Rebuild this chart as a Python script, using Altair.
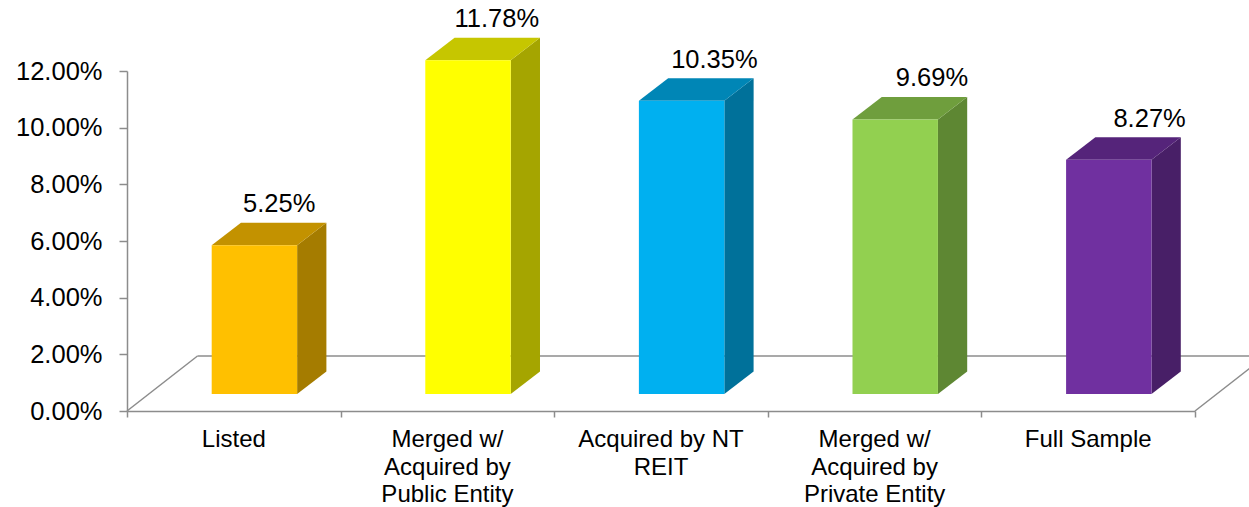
import altair as alt
import pandas as pd

# ---------------- data ----------------
categories = ["Listed", "Merged w/\nAcquired by\nPublic Entity", "Acquired by NT\nREIT",
              "Merged w/\nAcquired by\nPrivate Entity", "Full Sample"]
values = [0.0525, 0.1178, 0.1035, 0.0969, 0.0827]
value_labels = ["5.25%", "11.78%", "10.35%", "9.69%", "8.27%"]
y_ticks = [0, 0.02, 0.04, 0.06, 0.08, 0.10, 0.12]

# ---------------- styles ----------------
front_colors = ["#FFC000", "#FFFF00", "#00B0F0", "#92D050", "#7030A0"]
top_colors = ["#C39200", "#C6C600", "#0086B6", "#6F9E3D", "#55247A"]
side_colors = ["#A57C00", "#A5A500", "#00719A", "#5E8733", "#481F67"]
FONT = "Liberation Sans"
GRAY = "#8C8C8C"

# ---------------- layout (scale units) ----------------
N = len(categories)
BAR_LEFT = 0.3965      # front face left edge within a slot
BAR_W = 0.40           # front face width
DX = 0.137             # depth offset, x
DY = 0.0079            # depth offset, y
BASE = 0.006           # bar base above floor front edge
FLOOR_DX = 0.33
FLOOR_DY = 0.0194
LABEL_START = 0.7126
LABEL_SPREAD = 1.0187
LABEL_LIFT = 0.0177

xscale = alt.Scale(domain=[0, N], nice=False, zero=False)
yscale = alt.Scale(domain=[0, 0.12], nice=False, zero=False)
xaxis = alt.Axis(values=list(range(N + 1)), labels=False, tickSize=6, tickColor=GRAY,
                 tickWidth=1.5, domainColor=GRAY, domainWidth=1.5, grid=False, title=None)
yaxis = alt.Axis(values=y_ticks, format=".2%", labelFont=FONT, labelFontSize=25.5,
                 labelColor="#000000", labelPadding=17, tickSize=8, tickColor=GRAY,
                 tickWidth=1.5, domainColor=GRAY, domainWidth=1.5, grid=False, title=None)


def X(f, stack=False):
    if stack:
        return alt.X(f, type="quantitative", scale=xscale, axis=xaxis, title=None, stack=None)
    return alt.X(f, type="quantitative", scale=xscale, axis=xaxis, title=None)


def Y(f, stack=False):
    if stack:
        return alt.Y(f, type="quantitative", scale=yscale, axis=yaxis, title=None, stack=None)
    return alt.Y(f, type="quantitative", scale=yscale, axis=yaxis, title=None)


# front faces
front = pd.DataFrame({
    "bar": list(range(N)),
    "x": [i + BAR_LEFT for i in range(N)],
    "x2": [i + BAR_LEFT + BAR_W for i in range(N)],
    "y": [BASE] * N,
    "y2": [BASE + v for v in values],
    "color": front_colors,
})

# side faces (two points each)
side_rows = []
for i, v in enumerate(values):
    xr = i + BAR_LEFT + BAR_W
    for t in (0, 1):
        side_rows.append({"bar": i, "x": xr + t * DX, "y": BASE + t * DY,
                          "y2": BASE + v + t * DY, "color": side_colors[i]})
side = pd.DataFrame(side_rows)

# top faces (two points each)
top_rows = []
for i, v in enumerate(values):
    xl = i + BAR_LEFT
    for t in (0, 1):
        top_rows.append({"bar": i, "y": BASE + v + t * DY, "x": xl + t * DX,
                         "x2": xl + BAR_W + t * DX, "color": top_colors[i]})
top = pd.DataFrame(top_rows)

# floor lines
floor = pd.DataFrame({
    "x": [0, FLOOR_DX, N],
    "x2": [FLOOR_DX, N + FLOOR_DX, N + FLOOR_DX],
    "y": [0, FLOOR_DY, 0],
    "y2": [FLOOR_DY, FLOOR_DY, FLOOR_DY],
})

labels = pd.DataFrame({
    "x": [LABEL_START + LABEL_SPREAD * i for i in range(N)],
    "y": [v + LABEL_LIFT for v in values],
    "text": value_labels,
})

cats = pd.DataFrame({"x": [i + 0.5 for i in range(N)], "y": [0] * N, "text": categories})

floor_layer = alt.Chart(floor).mark_rule(color=GRAY, strokeWidth=1.5).encode(
    x=X("x"), x2="x2", y=Y("y"), y2="y2")

front_layer = alt.Chart(front).mark_rect(strokeWidth=0).encode(
    x=X("x"), x2="x2", y=Y("y"), y2="y2",
    color=alt.Color("color:N", scale=None))

side_layer = alt.Chart(side).mark_area(orient="vertical").encode(
    x=X("x"), y=Y("y", stack=True), y2="y2", detail="bar:N",
    color=alt.Color("color:N", scale=None))

top_layer = alt.Chart(top).mark_area(orient="horizontal").encode(
    y=Y("y"), x=X("x", stack=True), x2="x2", detail="bar:N",
    color=alt.Color("color:N", scale=None))

label_layer = alt.Chart(labels).mark_text(
    font=FONT, fontSize=25.5, color="#000000", align="center", baseline="alphabetic"
).encode(x=X("x"), y=Y("y"), text="text:N")

cat_layer = alt.Chart(cats).mark_text(
    font=FONT, fontSize=24, color="#000000", align="center", baseline="alphabetic",
    lineBreak="\n", lineHeight=27.5, dy=36
).encode(x=X("x"), y=Y("y"), text="text:N")

chart = alt.layer(floor_layer, side_layer, top_layer, front_layer, label_layer, cat_layer).properties(
    width=1068, height=340,
    background="#FFFFFF",
    autosize=alt.AutoSizeParams(type="none"),
    padding={"left": 127, "top": 71, "right": 54, "bottom": 96},
).configure_view(stroke=None, strokeWidth=0)

chart.save("out.html", embed_options={"renderer": "svg", "actions": False})
